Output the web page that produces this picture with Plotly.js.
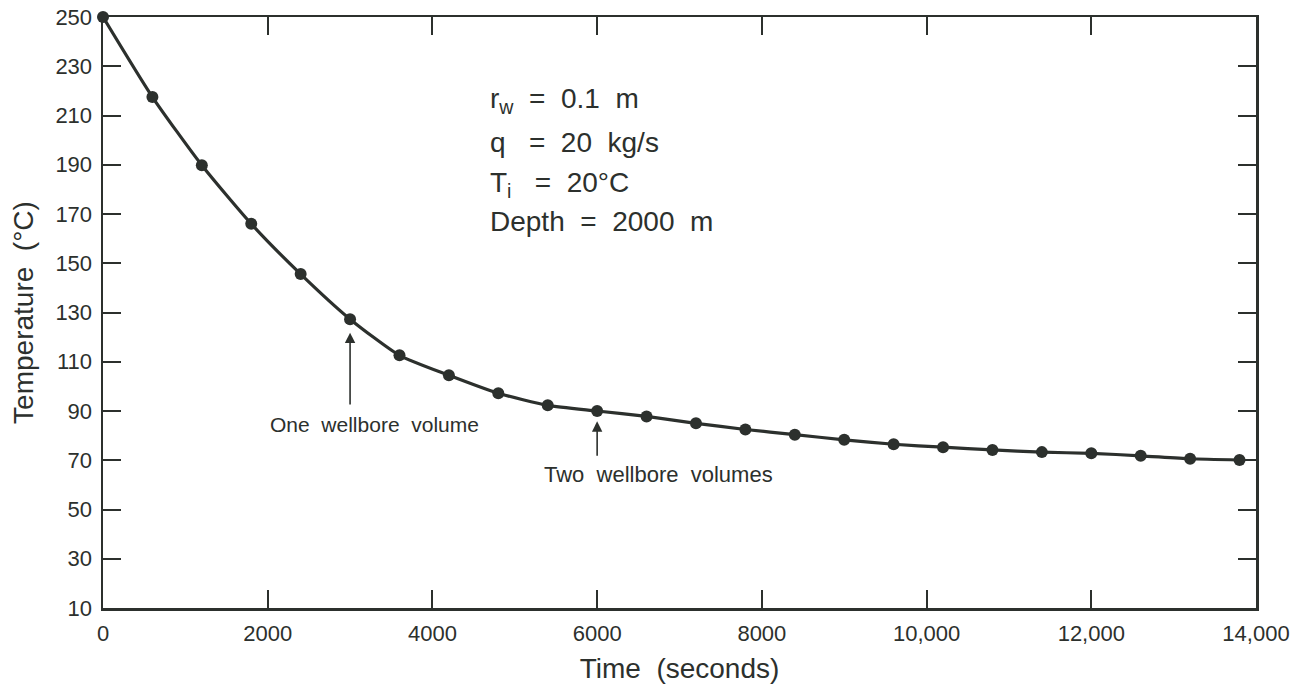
<!DOCTYPE html>
<html>
<head>
<meta charset="utf-8">
<script src="https://cdn.plot.ly/plotly-3.0.1.min.js"></script>
<style>
  html, body { margin: 0; padding: 0; background: #ffffff; }
  #chart { width: 1304px; height: 695px; }
</style>
</head>
<body>
<div id="chart"></div>
<script>
// Time (seconds) of each computed point
const timeSeconds = [0, 600, 1200, 1800, 2400, 3000, 3600, 4200, 4800, 5400, 6000, 6600,
                     7200, 7800, 8400, 9000, 9600, 10200, 10800, 11400, 12000, 12600, 13200, 13800];
// Temperature (°C)
const temperatureC = [250, 217.5, 189.8, 166, 145.6, 127.3, 112.6, 104.5, 97.2, 92.3, 90, 87.8,
                      85, 82.5, 80.4, 78.3, 76.5, 75.3, 74.2, 73.3, 72.8, 71.8, 70.6, 70.1];

const xTickVals = [0, 2000, 4000, 6000, 8000, 10000, 12000, 14000];
const xTickText = ['0', '2000', '4000', '6000', '8000', '10,000', '12,000', '14,000'];
const yTickVals = [10, 30, 50, 70, 90, 110, 130, 150, 170, 190, 210, 230, 250];

const paramLines = ['r<sub>w</sub>  =  0.1  m', 'q   =  20  kg/s', 'T<sub>i</sub>   =  20°C', 'Depth  =  2000  m'];
const paramY = [215.9, 199.2, 181.8, 166.8];
const paramX = 4680;

const markers = [
  { label: 'One  wellbore  volume', time: 3000, head: 121.8, tail: 92, tx: 3300, ty: 84.7, size: 21 },
  { label: 'Two  wellbore  volumes', time: 6000, head: 85.8, tail: 71.2, tx: 6751, ty: 64.4, size: 22 }
];

const ink = '#2c302d';
const fontFam = '"Liberation Sans", Arial, Helvetica, sans-serif';

const trace = {
  x: timeSeconds,
  y: temperatureC,
  type: 'scatter',
  mode: 'lines+markers',
  cliponaxis: false,
  line: { color: ink, width: 3.2, shape: 'spline', smoothing: 0.6 },
  marker: { color: ink, size: 12 },
  hoverinfo: 'x+y',
  showlegend: false
};

const annotations = [];
paramLines.forEach((t, i) => {
  annotations.push({
    x: paramX, y: paramY[i], xref: 'x', yref: 'y',
    text: t, showarrow: false, xanchor: 'left', yanchor: 'middle',
    font: { family: fontFam, size: 28, color: ink }
  });
});
markers.forEach(m => {
  annotations.push({
    x: m.time, y: m.head, ax: m.time, ay: m.tail, axref: 'x', ayref: 'y',
    xref: 'x', yref: 'y', text: '', showarrow: true,
    arrowhead: 2, arrowsize: 1.3, arrowwidth: 1.6, arrowcolor: ink
  });
  annotations.push({
    x: m.tx, y: m.ty, xref: 'x', yref: 'y', text: m.label, showarrow: false,
    xanchor: 'center', yanchor: 'middle',
    font: { family: fontFam, size: m.size, color: ink }
  });
});

const axisCommon = {
  showline: true, linecolor: ink, linewidth: 2.5, mirror: 'ticks',
  ticks: 'inside', ticklen: 18, tickwidth: 2, tickcolor: ink,
  showgrid: false, zeroline: false, automargin: false,
  tickfont: { family: fontFam, size: 22, color: ink }
};

const layout = {
  width: 1304, height: 695,
  margin: { l: 103, r: 48, t: 17, b: 87 },
  paper_bgcolor: '#ffffff', plot_bgcolor: '#ffffff',
  xaxis: Object.assign({}, axisCommon, {
    range: [0, 14000], tickmode: 'array', tickvals: xTickVals, ticktext: xTickText,
    ticklabelstandoff: 4,
    title: { text: 'Time  (seconds)', font: { family: fontFam, size: 28, color: ink }, standoff: 14 }
  }),
  yaxis: Object.assign({}, axisCommon, {
    range: [10, 250], tickmode: 'array', tickvals: yTickVals,
    ticklabelstandoff: 4,
    title: { text: 'Temperature  (°C)', font: { family: fontFam, size: 28, color: ink }, standoff: 14 }
  }),
  annotations: annotations,
  font: { family: fontFam, color: ink }
};

Plotly.newPlot('chart', [trace], layout, { displayModeBar: false, staticPlot: true });
</script>
</body>
</html>
